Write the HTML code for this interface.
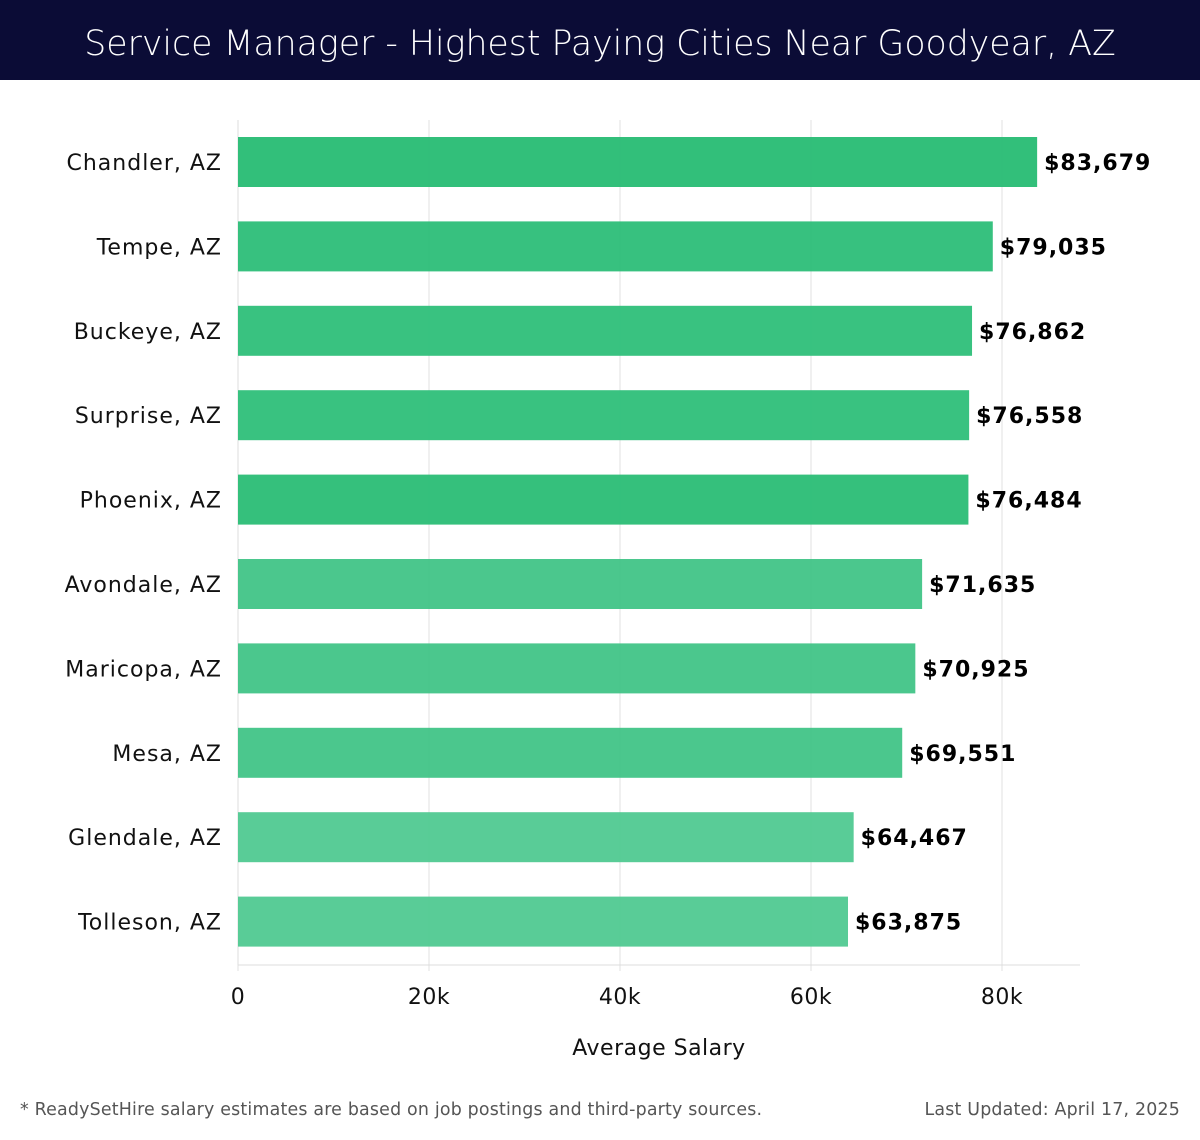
<!DOCTYPE html>
<html><head><meta charset="utf-8">
<style>
body{margin:0;width:1200px;height:1140px;background:#fff;font-family:"Liberation Sans","DejaVu Sans",sans-serif;overflow:hidden;position:relative}
.hdr{position:absolute;left:0;top:0;width:1200px;height:80px;background:#0b0c36;color:#fff;font-size:34.7px;text-align:center;line-height:88px;font-family:"DejaVu Sans","Liberation Sans",sans-serif;font-weight:300}
.foot{position:absolute;top:1100px;font-size:17.4px;color:#555;font-family:"DejaVu Sans","Liberation Sans",sans-serif;letter-spacing:0.2px}
svg{position:absolute;left:0;top:0}
</style></head><body>
<div class="hdr">Service Manager - Highest Paying Cities Near Goodyear, AZ</div>
<svg id="c" width="1200" height="1100"></svg>
<div class="foot" style="left:20px">* ReadySetHire salary estimates are based on job postings and third-party sources.</div>
<div class="foot" style="right:20px">Last Updated: April 17, 2025</div>
<script>
const categories=["Chandler, AZ","Tempe, AZ","Buckeye, AZ","Surprise, AZ","Phoenix, AZ","Avondale, AZ","Maricopa, AZ","Mesa, AZ","Glendale, AZ","Tolleson, AZ"];
const values=[83679,79035,76862,76558,76484,71635,70925,69551,64467,63875];
const ticks=[0,20000,40000,60000,80000];
const tickLabels=["0","20k","40k","60k","80k"];
const colors=["#2bbd76","#31bf7b","#33c07c","#33c07c","#2ebe78","#45c589","#45c589","#45c589","#54ca94","#54ca94"];
const NS="http://www.w3.org/2000/svg",svg=document.getElementById('c');
const x0=238,pxPer=764/80000,xr=1080,plotTop=120,plotBottom=965,pitch=84.4,firstC=162,bh=50;
const xs=v=>x0+v*pxPer, yc=i=>firstC+i*pitch;
function el(t,a){const e=document.createElementNS(NS,t);for(const k in a)e.setAttribute(k,a[k]);svg.appendChild(e);return e;}
const fnt='"DejaVu Sans","Liberation Sans",sans-serif';
ticks.forEach((t,i)=>{
 const g=el('line',{x1:xs(t),x2:xs(t),y1:plotTop,y2:plotBottom+6,stroke:'#e0e0e0','stroke-width':1});
 
 
 const tl=el('text',{x:xs(t),y:1004,'text-anchor':'middle','font-size':22,'font-family':fnt,fill:'#111','letter-spacing':0.5});
 tl.textContent=tickLabels[i];
 
 
});
const ax=el('line',{x1:x0,x2:xr,y1:plotBottom,y2:plotBottom,stroke:'#ddd','stroke-width':1});


const ay=el('line',{x1:x0,x2:x0,y1:plotTop,y2:plotBottom,stroke:'#ddd','stroke-width':1});


categories.forEach((c,i)=>{
 const r=el('rect',{x:x0,y:yc(i)-bh/2,width:xs(values[i])-x0,height:bh,fill:colors[i],'fill-opacity':0.97});
 
 
 const l=el('text',{x:222,y:yc(i)+8,'text-anchor':'end','font-size':22,'font-family':fnt,fill:'#111','letter-spacing':1});
 l.textContent=c;
 
 
 const v=el('text',{x:xs(values[i])+7,y:yc(i)+8,'font-size':22,'font-weight':'bold','font-family':fnt,fill:'#000','letter-spacing':1});
 v.textContent='$'+values[i].toLocaleString('en-US');
 
 
});
const at=el('text',{x:659,y:1055,'text-anchor':'middle','font-size':22,'font-family':fnt,fill:'#111','letter-spacing':0.5});
at.textContent='Average Salary';


</script>
</body></html>
